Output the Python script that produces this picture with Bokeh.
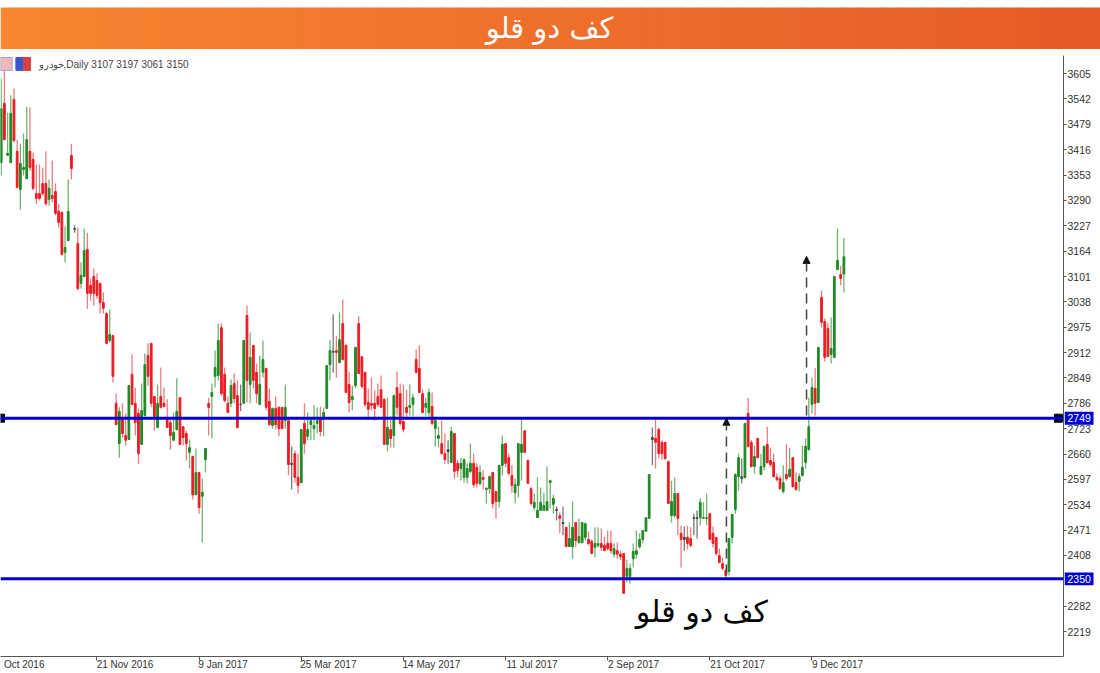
from bokeh.plotting import figure
from bokeh.models import (Range1d, LinearAxis, FixedTicker, Span, Label, Arrow, NormalHead)
from bokeh.core.properties import value
from bokeh.embed import file_html
from bokeh.resources import INLINE

TITLE = "کف دو قلو"
LEGEND = "خودرو,Daily  3107 3197 3061 3150"

opens = [3384,3531,3402,3384,3541,3412,3317,3367,3344,3412,3392,3307,3307,3332,3332,3292,3302,3312,3263,3260,
 3161,3190,3402,3220,3183,3084,3101,3168,3079,3101,3091,3084,3036,3009,2942,2954,2786,2686,2748,2706,
 2696,2858,2786,2761,2684,2756,2905,2935,2803,2726,2803,2786,2746,2738,2694,2721,2800,2728,2711,2664,
 2654,2559,2614,2555,2646,2786,2803,2853,2855,2974,2858,2786,2786,2835,2805,2784,2786,3004,2833,2930,
 2863,2783,2863,2873,2791,2731,2773,2776,2776,2743,2743,2637,2661,2602,2589,2736,2704,2733,2723,2736,
 2748,2753,2773,2882,2915,2917,2887,2984,2930,2833,2795,2830,2984,2902,2863,2788,2786,2786,2803,2820,
 2796,2684,2721,2706,2825,2810,2741,2776,2776,2783,2895,2873,2810,2776,2763,2778,2723,2699,2686,2661,
 2671,2639,2711,2637,2624,2602,2602,2617,2637,2627,2587,2602,2572,2574,2614,2567,2542,2632,2686,2651,
 2607,2564,2582,2664,2718,2644,2574,2527,2502,2520,2520,2520,2589,2535,2522,2507,2490,2478,2430,2430,
 2490,2440,2440,2453,2448,2443,2428,2433,2438,2433,2438,2438,2411,2420,2411,2413,2356,2356,2400,2411,
 2430,2448,2468,2500,2701,2699,2721,2689,2689,2641,2507,2507,2562,2463,2453,2453,2450,2502,2502,2502,
 2500,2500,2512,2463,2453,2408,2388,2371,2368,2453,2522,2604,2604,2602,2761,2689,2629,2699,2609,2629,
 2684,2644,2639,2602,2599,2567,2609,2604,2651,2589,2592,2607,2639,2671,2783,2823,2788,3049,2989,2972,
 2907,2900,3118,3106,3107]
highs = [3593,3613,3508,3551,3568,3441,3431,3456,3523,3521,3409,3379,3379,3372,3412,3342,3389,3332,3282,3263,
 3225,3342,3431,3228,3223,3136,3220,3210,3096,3121,3109,3084,3061,3012,3019,2957,2810,2776,2786,2761,
 2830,2907,2825,2773,2835,2910,2935,2935,2803,2833,2875,2825,2796,2751,2763,2848,2800,2728,2718,2696,
 2656,2674,2614,2599,2674,2800,2835,2917,2984,2984,2875,2803,2845,2860,2843,2833,2942,3029,2962,2930,
 2885,2905,2942,2873,2823,2776,2803,2778,2776,2833,2743,2679,2669,2661,2721,2786,2763,2751,2781,2776,
 2778,2776,2880,2944,3007,2954,3012,3044,2932,2863,2830,2925,3002,2902,2863,2823,2850,2818,2835,2855,
 2798,2800,2753,2808,2865,2835,2833,2820,2833,2810,2920,2930,2820,2800,2823,2813,2753,2728,2743,2711,
 2694,2728,2711,2644,2651,2649,2637,2686,2661,2637,2632,2619,2577,2607,2614,2569,2632,2706,2686,2661,
 2632,2599,2686,2748,2718,2646,2579,2562,2602,2577,2564,2629,2597,2559,2530,2515,2530,2478,2490,2542,
 2490,2500,2490,2490,2468,2448,2478,2478,2475,2455,2470,2470,2438,2440,2420,2413,2398,2388,2438,2470,
 2463,2470,2502,2609,2726,2748,2726,2694,2689,2644,2594,2602,2562,2482,2480,2482,2478,2512,2520,2550,
 2540,2562,2512,2480,2453,2425,2403,2376,2450,2510,2612,2661,2649,2736,2800,2694,2681,2699,2661,2681,
 2728,2676,2661,2612,2607,2632,2684,2676,2651,2614,2612,2681,2699,2800,2850,2873,2925,3066,2997,2987,
 2999,3101,3220,3128,3197]
lows = [3352,3439,3402,3384,3434,3320,3267,3352,3344,3364,3315,3282,3290,3302,3277,3277,3285,3253,3223,3153,
 3136,3190,3342,3210,3066,3071,3099,3021,3041,3029,3046,3009,3009,2935,2937,2838,2733,2651,2701,2681,
 2696,2781,2706,2636,2684,2753,2830,2776,2718,2726,2773,2776,2726,2671,2694,2718,2684,2681,2644,2624,
 2547,2559,2512,2440,2614,2706,2699,2825,2843,2805,2788,2763,2776,2786,2723,2766,2786,2788,2786,2823,
 2786,2783,2850,2768,2731,2723,2721,2704,2723,2723,2607,2572,2589,2562,2589,2661,2694,2694,2694,2711,
 2704,2704,2773,2843,2862,2850,2887,2892,2813,2763,2768,2823,2860,2823,2776,2746,2768,2743,2776,2776,
 2684,2666,2676,2676,2756,2731,2714,2746,2756,2753,2860,2813,2763,2756,2753,2731,2679,2676,2659,2636,
 2636,2639,2599,2602,2594,2589,2587,2612,2577,2577,2582,2572,2537,2562,2525,2500,2527,2607,2627,2607,
 2564,2537,2552,2594,2664,2587,2532,2520,2502,2520,2520,2520,2525,2512,2495,2463,2458,2430,2430,2400,
 2430,2438,2438,2445,2433,2413,2403,2428,2420,2420,2420,2413,2403,2400,2396,2314,2341,2338,2378,2400,
 2425,2438,2468,2500,2632,2624,2649,2646,2646,2537,2490,2502,2458,2378,2420,2423,2428,2458,2450,2483,
 2502,2483,2448,2428,2408,2388,2371,2353,2358,2438,2512,2569,2587,2599,2676,2627,2612,2649,2609,2619,
 2636,2627,2602,2592,2572,2562,2594,2602,2577,2569,2567,2604,2624,2669,2761,2756,2788,2974,2890,2905,
 2885,2900,3118,3079,3061]
closes = [3518,3441,3407,3506,3439,3322,3382,3372,3441,3372,3320,3295,3295,3307,3282,3320,3295,3258,3235,3156,
 3173,3263,3369,3218,3071,3104,3166,3059,3059,3059,3054,3036,3022,2935,2957,2853,2733,2766,2711,2694,
 2830,2783,2738,2661,2768,2882,2853,2786,2753,2786,2776,2778,2726,2706,2714,2766,2684,2701,2686,2676,
 2559,2614,2527,2565,2674,2776,2813,2875,2942,2810,2793,2763,2830,2798,2726,2783,2942,2843,2900,2843,
 2810,2833,2895,2776,2733,2773,2733,2723,2723,2776,2634,2634,2602,2582,2721,2686,2721,2743,2731,2743,
 2716,2763,2880,2917,2913,2912,2944,2895,2813,2788,2803,2925,2860,2828,2783,2771,2781,2773,2783,2776,
 2684,2726,2699,2805,2776,2736,2721,2763,2781,2800,2863,2813,2763,2786,2813,2736,2743,2706,2661,2646,
 2666,2716,2617,2619,2637,2646,2624,2637,2584,2587,2614,2597,2575,2604,2537,2542,2632,2684,2637,2612,
 2582,2584,2686,2684,2664,2587,2537,2540,2520,2540,2532,2542,2594,2550,2520,2500,2487,2430,2450,2478,
 2445,2455,2490,2487,2438,2413,2438,2438,2428,2420,2425,2420,2425,2411,2405,2314,2376,2376,2418,2420,
 2448,2470,2502,2609,2696,2689,2661,2661,2649,2537,2542,2562,2500,2448,2448,2438,2433,2500,2500,2540,
 2502,2502,2448,2438,2413,2391,2376,2358,2450,2510,2609,2651,2599,2736,2679,2629,2654,2651,2629,2679,
 2639,2634,2604,2597,2574,2589,2599,2622,2579,2572,2604,2627,2679,2728,2825,2786,2925,2987,2900,2902,
 2922,3101,3141,3096,3150]
gray_bars = [23,75,91,104,140,174,176,204,214,217,218,232]

support = 2350
resistance = 2749
price_ticks = [3605,3542,3479,3416,3353,3290,3227,3164,3101,3038,2975,2912,2849,2786,2723,2660,2597,2534,2471,2408,2282,2219]
date_bars = [30,62,94,126,158,190,222,254]
date_labels = ["Oct 2016","21 Nov 2016","9 Jan 2017","25 Mar 2017","14 May 2017","11 Jul 2017","2 Sep 2017","21 Oct 2017","9 Dec 2017"]
date_label_bars = [7.2,38.8,69.5,102.5,134.8,166.3,198.1,230.7,262.0]

FONT = "Liberation Sans"
BLUE = "#0000d2"

# ---------- banner ----------
ban = figure(width=1100, height=49, x_range=(0,1100), y_range=(49,0), output_backend="svg",
             toolbar_location=None, min_border=0, outline_line_color=None, background_fill_color="white",
             border_fill_color="white")
ban.axis.visible = False
ban.grid.visible = False
c0, c1 = (246,134,48), (232,90,40)
n = 55
lefts = [i*20 for i in range(n)]
rights = [(i+1)*20+1 for i in range(n)]
cols = ["#%02x%02x%02x" % tuple(int(a+(b-a)*i/(n-1)) for a,b in zip(c0,c1)) for i in range(n)]
ban.quad(left=lefts, right=rights, top=[7]*n, bottom=[49]*n, fill_color=cols, line_color=None)
ban.text(x=[549], y=[27], text=[TITLE], text_color="white", text_font=value("DejaVu Sans"),
         text_font_size="29px", text_align="center", text_baseline="middle")
ban.styles = {"position":"absolute","left":"0px","top":"0px"}

# ---------- chart ----------
idx = list(range(len(opens)))
x_end = (1063-0.7)/3.192
p = figure(width=1100, height=624, x_range=Range1d(-0.22, x_end), y_range=Range1d(2157.1, 3650),
           output_backend="svg", toolbar_location=None, min_border_left=0, min_border_top=6,
           min_border_right=37, min_border_bottom=17, outline_line_color=None, x_axis_type=None, y_axis_type=None,
           background_fill_color="white", border_fill_color="white")
p.grid.visible = False
p.styles = {"position":"absolute","left":"0px","top":"49px"}

yax = LinearAxis(ticker=FixedTicker(ticks=price_ticks), axis_line_color="#555555", major_tick_line_color="#555555",
                 major_tick_in=0, major_tick_out=3, minor_tick_line_color=None, major_label_standoff=1,
                 major_label_text_font=FONT, major_label_text_font_size="10.5px", major_label_text_color="#333333")
p.add_layout(yax, "right")
xt = LinearAxis(ticker=FixedTicker(ticks=date_bars), axis_line_color="#555555", major_tick_line_color="#555555",
                major_tick_in=0, major_tick_out=4, minor_tick_line_color=None, major_label_standoff=0,
                major_label_text_font_size="0px",
                major_label_overrides={b:"" for b in date_bars})
p.add_layout(xt, "below")
xl = LinearAxis(ticker=FixedTicker(ticks=date_label_bars), axis_line_color=None, major_tick_line_color=None,
                major_tick_in=0, major_tick_out=0, minor_tick_line_color=None, major_label_standoff=-2,
                major_label_text_font=FONT, major_label_text_font_size="10px", major_label_text_color="#333333",
                major_label_overrides=dict(zip(date_label_bars, date_labels)))
p.add_layout(xl, "below")

wick_cols, body_cols = [], []
for i,(o,c) in enumerate(zip(opens,closes)):
    if i in gray_bars:
        wick_cols.append("#777777"); body_cols.append("#444444")
    elif c >= o:
        wick_cols.append("#73b273"); body_cols.append("#1f8a24")
    else:
        wick_cols.append("#ec7c7c"); body_cols.append("#ec1c24")
p.segment(x0=idx, x1=idx, y0=lows, y1=highs, line_color=wick_cols, line_width=1.3)
p.vbar(x=idx, width=0.55, top=[max(a,b) for a,b in zip(opens,closes)], bottom=[min(a,b) for a,b in zip(opens,closes)],
       fill_color=body_cols, line_color=body_cols, line_width=1)

for lv in (resistance, support):
    p.add_layout(Span(location=lv, dimension="width", line_color=BLUE, line_width=3))
p.scatter(x=[-0.2, 331.2], y=[resistance]*2, marker="square", size=8, fill_color="black", line_color="black")

for xa, y0, y1 in ((227.2, 2361, 2749), (252.3, 2756, 3151)):
    p.add_layout(Arrow(end=NormalHead(size=7, fill_color="#111111", line_color="#111111"), x_start=xa, y_start=y0,
                       x_end=xa, y_end=y1, line_color="#444444", line_width=1.5, line_dash="10 6"))

p.add_layout(Label(x=219.5, y=2270, text=TITLE, text_color="black", text_font="DejaVu Sans", text_font_size="30px",
                   text_align="center", text_baseline="middle"))
p.add_layout(Label(x=11.7, y=3628, text=LEGEND, text_color="#444444", text_font=FONT, text_font_size="10px",
                   text_baseline="middle"))
# chart-window icons in the legend corner
p.quad(left=[-0.2,4.6,7.0], right=[3.4,6.8,9.2], top=[3645,3645,3645], bottom=[3613,3613,3613],
       fill_color=["#f0b8b8","#3a55d0","#d84040"], line_color=["#9aa0d8","#3a55d0","#d84040"])

# ---------- price tags beside the axis, on the same price scale ----------
tags = [resistance, support]
side = figure(width=30, height=601, x_range=(0,30), y_range=p.y_range, output_backend="svg",
              toolbar_location=None, min_border=0, outline_line_color=None,
              background_fill_alpha=0, border_fill_alpha=0)
side.axis.visible = False
side.grid.visible = False
side.quad(left=[0,0], right=[29,29], top=[t+16 for t in tags], bottom=[t-16 for t in tags],
          fill_color=BLUE, line_color=None)
side.text(x=[3,3], y=tags, text=[str(t) for t in tags], text_color="white", text_font=value(FONT),
          text_font_size="10.5px", text_baseline="middle")
side.styles = {"position":"absolute","left":"1064px","top":"55px","z-index":"5"}

open("out.html","w").write(file_html([ban, p, side], INLINE))
